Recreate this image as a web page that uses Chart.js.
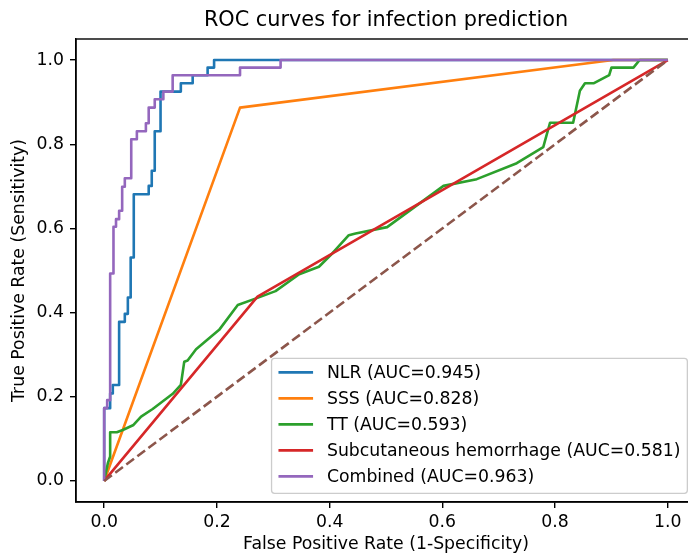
<!DOCTYPE html>
<html>
<head>
<meta charset="utf-8">
<title>ROC curves for infection prediction</title>
<script src="https://cdn.jsdelivr.net/npm/chart.js@4.4.1/dist/chart.umd.min.js"></script>
<style>
  html, body { margin: 0; padding: 0; background: #ffffff; overflow: hidden; }
  canvas { display: block; }
</style>
</head>
<body>
<canvas id="rocChart" width="700" height="555"></canvas>
<script>
// Datos: FPR (1-especificidad) y TPR (sensibilidad)
const nlrFpr = [0, 0, 0.0106, 0.0106, 0.0153, 0.0153, 0.0265, 0.0265, 0.0366, 0.0366, 0.042, 0.042, 0.047, 0.047, 0.0525, 0.0525, 0.079, 0.079, 0.0844, 0.0844, 0.0897, 0.0897, 0.100, 0.100, 0.136, 0.136, 0.157, 0.157, 0.1835, 0.1835, 0.195, 0.195, 1.0];
const nlrTpr = [0, 0.173, 0.173, 0.208, 0.208, 0.228, 0.228, 0.378, 0.378, 0.397, 0.397, 0.436, 0.436, 0.531, 0.531, 0.681, 0.681, 0.701, 0.701, 0.737, 0.737, 0.831, 0.831, 0.925, 0.925, 0.945, 0.945, 0.964, 0.964, 0.982, 0.982, 1.0, 1.0];

const sssFpr = [0, 0.241, 0.903, 1.0];
const sssTpr = [0, 0.887, 1.0, 1.0];

const ttFpr = [0, 0.0065, 0.0106, 0.0106, 0.0224, 0.033, 0.052, 0.0655, 0.086, 0.1216, 0.136, 0.142, 0.148, 0.163, 0.204, 0.237, 0.272, 0.304, 0.346, 0.381, 0.405, 0.434, 0.446, 0.502, 0.602, 0.661, 0.732, 0.779, 0.791, 0.832, 0.844, 0.853, 0.869, 0.896, 0.900, 0.939, 0.950, 1.0];
const ttTpr = [0, 0.042, 0.058, 0.1156, 0.1156, 0.121, 0.133, 0.153, 0.171, 0.207, 0.228, 0.283, 0.286, 0.313, 0.359, 0.418, 0.435, 0.451, 0.491, 0.509, 0.541, 0.584, 0.588, 0.603, 0.701, 0.717, 0.755, 0.793, 0.851, 0.851, 0.927, 0.945, 0.945, 0.964, 0.982, 0.982, 1.0, 1.0];

const subFpr = [0, 0.272, 1.0];
const subTpr = [0, 0.438, 1.0];

const combFpr = [0, 0, 0.0053, 0.0053, 0.0106, 0.0106, 0.0165, 0.0165, 0.021, 0.021, 0.0265, 0.0265, 0.0319, 0.0319, 0.0366, 0.0366, 0.048, 0.048, 0.058, 0.058, 0.074, 0.074, 0.079, 0.079, 0.0897, 0.0897, 0.105, 0.105, 0.1215, 0.1215, 0.241, 0.241, 0.313, 0.313, 1.0];
const combTpr = [0, 0.173, 0.173, 0.192, 0.192, 0.493, 0.493, 0.604, 0.604, 0.622, 0.622, 0.642, 0.642, 0.699, 0.699, 0.719, 0.719, 0.812, 0.812, 0.831, 0.831, 0.850, 0.850, 0.887, 0.887, 0.907, 0.907, 0.925, 0.925, 0.964, 0.964, 0.982, 0.982, 1.0, 1.0];

// Línea de referencia (azar)
const diagFpr = [0, 1];
const diagTpr = [0, 1];

const seriesLabels = ['NLR (AUC=0.945)', 'SSS (AUC=0.828)', 'TT (AUC=0.593)', 'Subcutaneous hemorrhage (AUC=0.581)', 'Combined (AUC=0.963)'];
const tickValues = [0, 0.2, 0.4, 0.6, 0.8, 1.0];
const chartTitle = 'ROC curves for infection prediction';

document.addEventListener('DOMContentLoaded', function() {
    const fontFamily = '"DejaVu Sans", sans-serif';
    const fs = 17.3;

    // Colores de matplotlib (tab10)
    const colors = ['#1f77b4', '#ff7f0e', '#2ca02c', '#d62728', '#9467bd', '#8c564b'];

    function toPoints(xs, ys) {
        return xs.map((x, i) => ({ x: x, y: ys[i] }));
    }

    function curve(label, xs, ys, color, order) {
        return {
            label: label,
            data: toPoints(xs, ys),
            borderColor: color,
            backgroundColor: color,
            borderWidth: 2.6,
            borderJoinStyle: 'round',
            pointRadius: 0,
            tension: 0,
            fill: false,
            order: order
        };
    }

    const datasets = [
        curve(seriesLabels[0], nlrFpr, nlrTpr, colors[0], 6),
        curve(seriesLabels[1], sssFpr, sssTpr, colors[1], 5),
        curve(seriesLabels[2], ttFpr, ttTpr, colors[2], 4),
        curve(seriesLabels[3], subFpr, subTpr, colors[3], 3),
        curve(seriesLabels[4], combFpr, combTpr, colors[4], 2),
        Object.assign(curve('', diagFpr, diagTpr, colors[5], 1), { borderDash: [9.6, 4.2] })
    ];

    // Marco completo del área (como los "spines" de matplotlib)
    const frame = {
        id: 'frame',
        afterDatasetsDraw(chart) {
            const a = chart.chartArea;
            const ctx = chart.ctx;
            ctx.save();
            ctx.strokeStyle = '#000000';
            ctx.lineWidth = 1.4;
            ctx.strokeRect(a.left, a.top, a.right - a.left, a.bottom - a.top);
            ctx.restore();
        }
    };

    // Título centrado sobre el área del gráfico (no sobre todo el lienzo)
    const axesTitle = {
        id: 'axesTitle',
        afterDraw(chart) {
            const a = chart.chartArea;
            const ctx = chart.ctx;
            ctx.save();
            ctx.font = '20.8px ' + fontFamily;
            ctx.fillStyle = '#000000';
            ctx.textAlign = 'center';
            ctx.textBaseline = 'middle';
            ctx.fillText(chartTitle, (a.left + a.right) / 2, 21);
            ctx.restore();
        }
    };

    // Leyenda con caja, abajo a la derecha
    const legendBox = {
        id: 'legendBox',
        afterDraw(chart) {
            const ctx = chart.ctx;
            const a = chart.chartArea;
            const items = chart.data.datasets.filter(d => d.label);
            ctx.save();
            ctx.font = fs + 'px ' + fontFamily;
            let maxW = 0;
            items.forEach(d => { maxW = Math.max(maxW, ctx.measureText(d.label).width); });
            const w = fs * (0.4 + 2.0 + 0.8 + 0.4) + maxW;
            const h = 135;
            const right = a.right - fs * 0.5;
            const bottom = a.bottom - fs * 0.5;
            const left = right - w;
            const top = bottom - h;

            ctx.beginPath();
            ctx.roundRect(left, top, w, h, 3);
            ctx.fillStyle = 'rgba(255,255,255,0.8)';
            ctx.fill();
            ctx.strokeStyle = '#cccccc';
            ctx.lineWidth = 1.3;
            ctx.stroke();

            items.forEach((d, i) => {
                const y = top + 14 + i * 26;
                const x0 = left + fs * 0.4;
                ctx.beginPath();
                ctx.moveTo(x0, y);
                ctx.lineTo(x0 + fs * 2, y);
                ctx.strokeStyle = d.borderColor;
                ctx.lineWidth = 2.6;
                ctx.stroke();
                ctx.fillStyle = '#000000';
                ctx.textAlign = 'left';
                ctx.textBaseline = 'middle';
                ctx.fillText(d.label, x0 + fs * 2.8, y + 1);
            });
            ctx.restore();
        }
    };

    const ctx = document.getElementById('rocChart').getContext('2d');
    window.rocChart = new Chart(ctx, {
        type: 'line',
        data: { datasets: datasets },
        plugins: [frame, axesTitle, legendBox],
        options: {
            responsive: false,
            animation: false,
            layout: { padding: { left: 0, right: 4, top: 39, bottom: 0 } },
            plugins: {
                legend: { display: false },
                tooltip: { enabled: false },
                title: { display: false }
            },
            scales: {
                x: {
                    type: 'linear',
                    min: -0.05,
                    max: 1.05,
                    afterBuildTicks: function(scale) {
                        scale.ticks = tickValues.map(v => ({ value: v }));
                    },
                    afterFit: function(scale) { scale.height = 53; },
                    grid: { display: true, drawOnChartArea: false, drawTicks: true, tickLength: 6, color: '#000000', lineWidth: 1.4 },
                    border: { display: true, color: '#000000', width: 1.4 },
                    ticks: {
                        color: '#000000',
                        padding: 4,
                        maxRotation: 0,
                        font: { family: fontFamily, size: fs },
                        callback: function(value) { return value.toFixed(1); }
                    },
                    title: {
                        display: true,
                        text: 'False Positive Rate (1-Specificity)',
                        color: '#000000',
                        font: { family: fontFamily, size: fs },
                        padding: { top: 0, bottom: 0 }
                    }
                },
                y: {
                    type: 'linear',
                    min: -0.05,
                    max: 1.05,
                    afterBuildTicks: function(scale) {
                        scale.ticks = tickValues.map(v => ({ value: v }));
                    },
                    afterFit: function(scale) { scale.width = 76; },
                    grid: { display: true, drawOnChartArea: false, drawTicks: true, tickLength: 6, color: '#000000', lineWidth: 1.4 },
                    border: { display: true, color: '#000000', width: 1.4 },
                    ticks: {
                        color: '#000000',
                        padding: 6,
                        font: { family: fontFamily, size: fs },
                        callback: function(value) { return value.toFixed(1); }
                    },
                    title: {
                        display: true,
                        text: 'True Positive Rate (Sensitivity)',
                        color: '#000000',
                        font: { family: fontFamily, size: fs },
                        padding: { top: 9 }
                    }
                }
            }
        }
    });
});
</script>
</body>
</html>
